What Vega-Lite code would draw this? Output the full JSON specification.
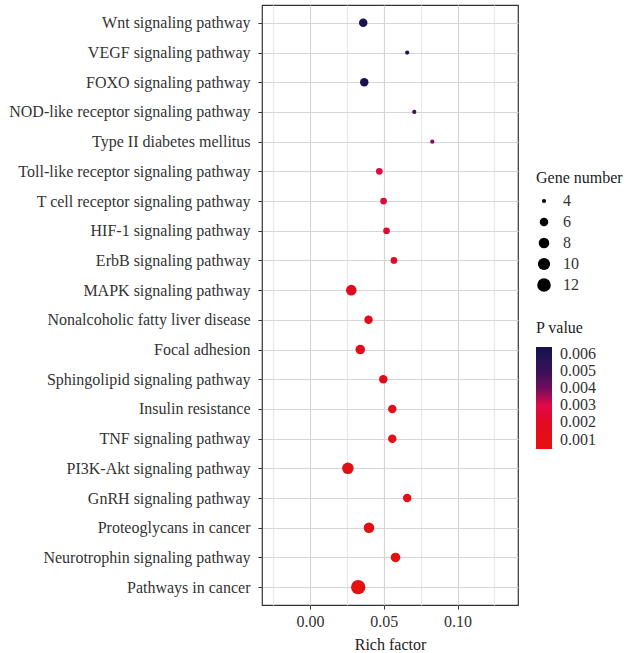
{
  "$schema": "https://vega.github.io/schema/vega-lite/v6.json",
  "width": 256,
  "height": 600,
  "autosize": {"type": "none"},
  "padding": {"left": 262, "top": 5, "right": 111, "bottom": 48},
  "background": "white",
  "config": {
    "font": "Liberation Serif",
    "view": {"stroke": "#333333", "strokeWidth": 1.2}
  },
  "data": {
    "values": [
      {"pathway": "Wnt signaling pathway", "rich_factor": 0.0361, "count": 6, "pvalue": 0.0063},
      {"pathway": "VEGF signaling pathway", "rich_factor": 0.0659, "count": 4, "pvalue": 0.0059},
      {"pathway": "FOXO signaling pathway", "rich_factor": 0.0368, "count": 6, "pvalue": 0.0061},
      {"pathway": "NOD-like receptor signaling pathway", "rich_factor": 0.0707, "count": 4, "pvalue": 0.0048},
      {"pathway": "Type II diabetes mellitus", "rich_factor": 0.0829, "count": 4, "pvalue": 0.0038},
      {"pathway": "Toll-like receptor signaling pathway", "rich_factor": 0.047, "count": 5, "pvalue": 0.0029},
      {"pathway": "T cell receptor signaling pathway", "rich_factor": 0.0499, "count": 5, "pvalue": 0.0026},
      {"pathway": "HIF-1 signaling pathway", "rich_factor": 0.0519, "count": 5, "pvalue": 0.0024},
      {"pathway": "ErbB signaling pathway", "rich_factor": 0.0569, "count": 5, "pvalue": 0.0021},
      {"pathway": "MAPK signaling pathway", "rich_factor": 0.028, "count": 8, "pvalue": 0.0017},
      {"pathway": "Nonalcoholic fatty liver disease", "rich_factor": 0.0397, "count": 6, "pvalue": 0.0016},
      {"pathway": "Focal adhesion", "rich_factor": 0.0341, "count": 7, "pvalue": 0.0015},
      {"pathway": "Sphingolipid signaling pathway", "rich_factor": 0.0497, "count": 6, "pvalue": 0.0014},
      {"pathway": "Insulin resistance", "rich_factor": 0.0558, "count": 6, "pvalue": 0.0013},
      {"pathway": "TNF signaling pathway", "rich_factor": 0.0558, "count": 6, "pvalue": 0.0012},
      {"pathway": "PI3K-Akt signaling pathway", "rich_factor": 0.0257, "count": 9, "pvalue": 0.0011},
      {"pathway": "GnRH signaling pathway", "rich_factor": 0.0659, "count": 6, "pvalue": 0.0009},
      {"pathway": "Proteoglycans in cancer", "rich_factor": 0.04, "count": 8, "pvalue": 0.0008},
      {"pathway": "Neurotrophin signaling pathway", "rich_factor": 0.058, "count": 7, "pvalue": 0.0006},
      {"pathway": "Pathways in cancer", "rich_factor": 0.0327, "count": 13, "pvalue": 0.00046}
    ]
  },
  "mark": {"type": "circle", "opacity": 1},
  "encoding": {
    "x": {
      "field": "rich_factor",
      "type": "quantitative",
      "title": "Rich factor",
      "scale": {"domain": [-0.0325, 0.141], "nice": false, "zero": false},
      "axis": {
        "values": [-0.025, 0, 0.025, 0.05, 0.075, 0.1, 0.125],
        "labelExpr": "round(datum.value*100) % 5 == 0 ? format(datum.value, '.2f') : ''",
        "domain": false,
        "grid": true,
        "gridColor": {"condition": {"test": "round(datum.value*100) % 5 == 0", "value": "#d6d6d6"}, "value": "#e8e8e8"},
        "gridWidth": 1.2,
        "tickColor": {"condition": {"test": "round(datum.value*100) % 5 == 0", "value": "#333333"}, "value": "transparent"},
        "tickSize": 4,
        "labelFontSize": 16,
        "labelColor": "#333333",
        "labelPadding": 4,
        "labelOverlap": false,
        "titleFontSize": 16,
        "titleFontWeight": "normal",
        "titleColor": "#222222",
        "titlePadding": 7
      }
    },
    "y": {
      "field": "pathway",
      "type": "nominal",
      "title": null,
      "sort": [
        "Wnt signaling pathway",
        "VEGF signaling pathway",
        "FOXO signaling pathway",
        "NOD-like receptor signaling pathway",
        "Type II diabetes mellitus",
        "Toll-like receptor signaling pathway",
        "T cell receptor signaling pathway",
        "HIF-1 signaling pathway",
        "ErbB signaling pathway",
        "MAPK signaling pathway",
        "Nonalcoholic fatty liver disease",
        "Focal adhesion",
        "Sphingolipid signaling pathway",
        "Insulin resistance",
        "TNF signaling pathway",
        "PI3K-Akt signaling pathway",
        "GnRH signaling pathway",
        "Proteoglycans in cancer",
        "Neurotrophin signaling pathway",
        "Pathways in cancer"
      ],
      "scale": {"type": "point", "padding": 0.6},
      "axis": {
        "domain": false,
        "grid": true,
        "gridColor": "#d6d6d6",
        "gridWidth": 1.2,
        "tickColor": "#333333",
        "tickSize": 4,
        "labelFontSize": 16,
        "labelColor": "#333333",
        "labelPadding": 8,
        "labelLimit": 300
      }
    },
    "size": {
      "field": "count",
      "type": "quantitative",
      "title": "Gene number",
      "scale": {
        "domain": [4, 5, 6, 7, 8, 9, 10, 12, 13],
        "range": [18, 45, 72, 92, 112, 132, 150, 185, 205]
      },
      "legend": {
        "orient": "none",
        "legendX": 274,
        "legendY": 165,
        "values": [4, 6, 8, 10, 12],
        "symbolType": "circle",
        "symbolFillColor": "black",
        "symbolStrokeWidth": 0,
        "symbolOpacity": 1,
        "labelFontSize": 16,
        "labelColor": "#333333",
        "labelOffset": 11,
        "rowPadding": 5,
        "titleFontSize": 16,
        "titleFontWeight": "normal",
        "titleColor": "#222222",
        "titlePadding": 7
      }
    },
    "color": {
      "field": "pvalue",
      "type": "quantitative",
      "title": "P value",
      "scale": {
        "domain": [0.00046, 0.002, 0.003, 0.004, 0.005, 0.00638],
        "range": ["#e3120e", "#e20a22", "#e0094a", "#6e0d5c", "#351158", "#15124f"],
        "interpolate": "lab"
      },
      "legend": {
        "orient": "none",
        "legendX": 274,
        "legendY": 315,
        "values": [0.001, 0.002, 0.003, 0.004, 0.005, 0.006],
        "format": ".3f",
        "gradientLength": 102,
        "gradientThickness": 16,
        "gradientStrokeWidth": 0,
        "labelFontSize": 16,
        "labelColor": "#333333",
        "labelOffset": 8,
        "labelOverlap": false,
        "titleFontSize": 16,
        "titleFontWeight": "normal",
        "titleColor": "#222222",
        "titlePadding": 11
      }
    }
  }
}
